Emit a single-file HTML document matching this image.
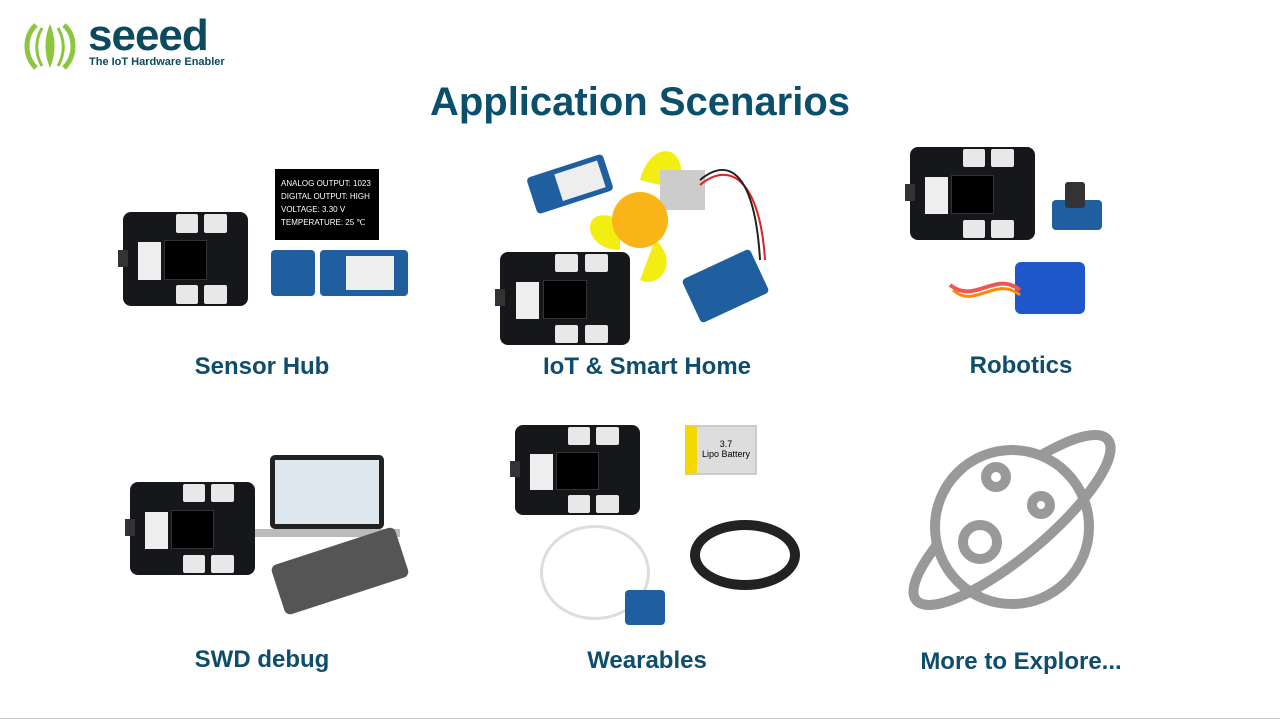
<!DOCTYPE html>
<html><head><meta charset="utf-8"><style>
*{margin:0;padding:0;box-sizing:border-box}
body{width:1280px;height:721px;background:#fff;position:relative;overflow:hidden;font-family:"Liberation Sans",sans-serif}
.a{position:absolute}
.lbl{position:absolute;color:#0e4d6b;font-weight:bold;font-size:24px;text-align:center;width:300px}
.b{position:absolute;background:#15171a;border-radius:8px}
.b .c{position:absolute;background:#e8e8e8;border-radius:2px}
.b .s{position:absolute;background:#000;left:33%;top:30%;width:34%;height:42%;border:1px solid #333}
.b .m{position:absolute;background:#eee;left:12%;top:32%;width:18%;height:40%}
.b .u{position:absolute;background:#333;left:-4%;top:40%;width:8%;height:18%}
.g{position:absolute;background:#1f5fa0;border-radius:4px}
</style></head><body>
<svg class="a" style="left:20px;top:22px" width="60" height="50" viewBox="0 0 60 50">
<path d="M16 3 C4 14 4 34 16 46" stroke="#8cc63f" stroke-width="5" fill="none"/>
<path d="M44 3 C56 14 56 34 44 46" stroke="#8cc63f" stroke-width="5" fill="none"/>
<path d="M22 6 C15 18 15 32 22 44" stroke="#8cc63f" stroke-width="3" fill="none"/>
<path d="M38 6 C45 18 45 32 38 44" stroke="#8cc63f" stroke-width="3" fill="none"/>
<path d="M30 2 C24 16 24 32 30 46 C36 32 36 16 30 2Z" fill="#8cc63f"/>
</svg>
<div class="a" style="left:88px;top:14px;font-size:44px;font-weight:bold;color:#0c4a5e;letter-spacing:-1px;line-height:44px">seeed</div>
<div class="a" style="left:89px;top:56px;font-size:11px;font-weight:bold;color:#0c4a5e">The IoT Hardware Enabler</div>
<div class="a" style="left:0;top:80px;width:1280px;text-align:center;font-size:40px;font-weight:bold;color:#0b4f6c">Application Scenarios</div>

<div class="b" style="left:123px;top:212px;width:125px;height:94px"><div class="u"></div><div class="m"></div><div class="s"></div><div class="c" style="left:42%;top:2%;width:18%;height:20%"></div><div class="c" style="left:65%;top:2%;width:18%;height:20%"></div><div class="c" style="left:42%;top:78%;width:18%;height:20%"></div><div class="c" style="left:65%;top:78%;width:18%;height:20%"></div></div>
<div class="b" style="left:500px;top:252px;width:130px;height:93px"><div class="u"></div><div class="m"></div><div class="s"></div><div class="c" style="left:42%;top:2%;width:18%;height:20%"></div><div class="c" style="left:65%;top:2%;width:18%;height:20%"></div><div class="c" style="left:42%;top:78%;width:18%;height:20%"></div><div class="c" style="left:65%;top:78%;width:18%;height:20%"></div></div>
<div class="b" style="left:910px;top:147px;width:125px;height:93px"><div class="u"></div><div class="m"></div><div class="s"></div><div class="c" style="left:42%;top:2%;width:18%;height:20%"></div><div class="c" style="left:65%;top:2%;width:18%;height:20%"></div><div class="c" style="left:42%;top:78%;width:18%;height:20%"></div><div class="c" style="left:65%;top:78%;width:18%;height:20%"></div></div>
<div class="b" style="left:130px;top:482px;width:125px;height:93px"><div class="u"></div><div class="m"></div><div class="s"></div><div class="c" style="left:42%;top:2%;width:18%;height:20%"></div><div class="c" style="left:65%;top:2%;width:18%;height:20%"></div><div class="c" style="left:42%;top:78%;width:18%;height:20%"></div><div class="c" style="left:65%;top:78%;width:18%;height:20%"></div></div>
<div class="b" style="left:515px;top:425px;width:125px;height:90px"><div class="u"></div><div class="m"></div><div class="s"></div><div class="c" style="left:42%;top:2%;width:18%;height:20%"></div><div class="c" style="left:65%;top:2%;width:18%;height:20%"></div><div class="c" style="left:42%;top:78%;width:18%;height:20%"></div><div class="c" style="left:65%;top:78%;width:18%;height:20%"></div></div>

<div class="a" style="left:275px;top:169px;width:104px;height:71px;background:#000;color:#fff;font-size:8px;line-height:13px;padding:8px 6px">ANALOG OUTPUT: 1023<br>DIGITAL OUTPUT: HIGH<br>VOLTAGE: 3.30 V<br>TEMPERATURE: 25 ℃</div>
<div class="g" style="left:271px;top:250px;width:44px;height:46px"></div>
<div class="g" style="left:320px;top:250px;width:88px;height:46px"><div class="a" style="left:26px;top:6px;width:48px;height:34px;background:#eee"></div></div>

<div class="g" style="left:530px;top:165px;width:80px;height:38px;transform:rotate(-18deg)"><div class="a" style="left:28px;top:5px;width:45px;height:28px;background:#eee"></div></div>
<svg class="a" style="left:560px;top:140px" width="220" height="180">
<path d="M80 40 C90 0 130 0 120 50Z" fill="#f3ee12"/>
<path d="M60 80 C20 60 20 110 60 110Z" fill="#f3ee12"/>
<path d="M95 100 C120 120 100 150 80 140Z" fill="#f3ee12"/>
<rect x="100" y="30" width="45" height="40" fill="#ccc"/>
<circle cx="80" cy="80" r="28" fill="#f9b418"/>
<path d="M140 45 C170 20 200 40 205 120" stroke="#d22" stroke-width="2" fill="none"/>
<path d="M140 40 C170 15 195 35 200 120" stroke="#222" stroke-width="2" fill="none"/>
</svg>
<div class="g" style="left:688px;top:262px;width:75px;height:48px;transform:rotate(-25deg)"></div>

<div class="g" style="left:1052px;top:200px;width:50px;height:30px"></div>
<div class="a" style="left:1065px;top:182px;width:20px;height:26px;background:#333;border-radius:3px"></div>
<div class="a" style="left:1015px;top:262px;width:70px;height:52px;background:#1e57c8;border-radius:6px"></div>
<svg class="a" style="left:945px;top:265px" width="80" height="50"><path d="M75 25 C50 5 30 40 5 20" stroke="#e55" stroke-width="4" fill="none"/><path d="M75 30 C50 10 30 45 8 25" stroke="#f80" stroke-width="3" fill="none"/></svg>

<div class="a" style="left:270px;top:455px;width:114px;height:74px;background:#222;border-radius:5px;padding:5px"><div style="background:#dfe7ee;width:100%;height:100%"></div></div>
<div class="a" style="left:255px;top:529px;width:145px;height:8px;background:#bbb"></div>
<div class="a" style="left:275px;top:545px;width:130px;height:52px;background:#555;border-radius:6px;transform:rotate(-18deg)"></div>

<div class="a" style="left:685px;top:425px;width:72px;height:50px;background:#ddd;border:2px solid #ccc;border-left:12px solid #f5d800;font-size:9px;text-align:center;padding-top:12px">3.7<br>Lipo Battery</div>
<div class="a" style="left:540px;top:525px;width:110px;height:95px;border:3px solid #ddd;border-radius:50%"></div>
<div class="a" style="left:690px;top:520px;width:110px;height:70px;border:10px solid #222;border-radius:50%"></div>
<div class="g" style="left:625px;top:590px;width:40px;height:35px"></div>

<svg class="a" style="left:900px;top:420px" width="240" height="200">
<defs><clipPath id="fr"><rect x="-140" y="0" width="280" height="60"/></clipPath></defs>
<g transform="translate(112,100) rotate(-40)">
<ellipse cx="0" cy="0" rx="125" ry="36" stroke="#999" stroke-width="10" fill="none"/>
</g>
<circle cx="112" cy="107" r="77" fill="#fff" stroke="#999" stroke-width="10"/>
<g transform="translate(112,100) rotate(-40)">
<ellipse cx="0" cy="0" rx="125" ry="36" stroke="#999" stroke-width="10" fill="none" clip-path="url(#fr)"/>
</g>
<g stroke="#999" stroke-width="10" fill="none">
<circle cx="96" cy="57" r="10"/><circle cx="141" cy="85" r="9"/><circle cx="80" cy="122" r="17"/>
</g>
</svg>

<div class="lbl" style="left:112px;top:353px">Sensor Hub</div>
<div class="lbl" style="left:497px;top:353px">IoT &amp; Smart Home</div>
<div class="lbl" style="left:871px;top:352px">Robotics</div>
<div class="lbl" style="left:112px;top:646px">SWD debug</div>
<div class="lbl" style="left:497px;top:647px">Wearables</div>
<div class="lbl" style="left:871px;top:648px">More to Explore...</div>
<div class="a" style="left:0;top:718px;width:1280px;height:1px;background:#ccc"></div>
</body></html>
